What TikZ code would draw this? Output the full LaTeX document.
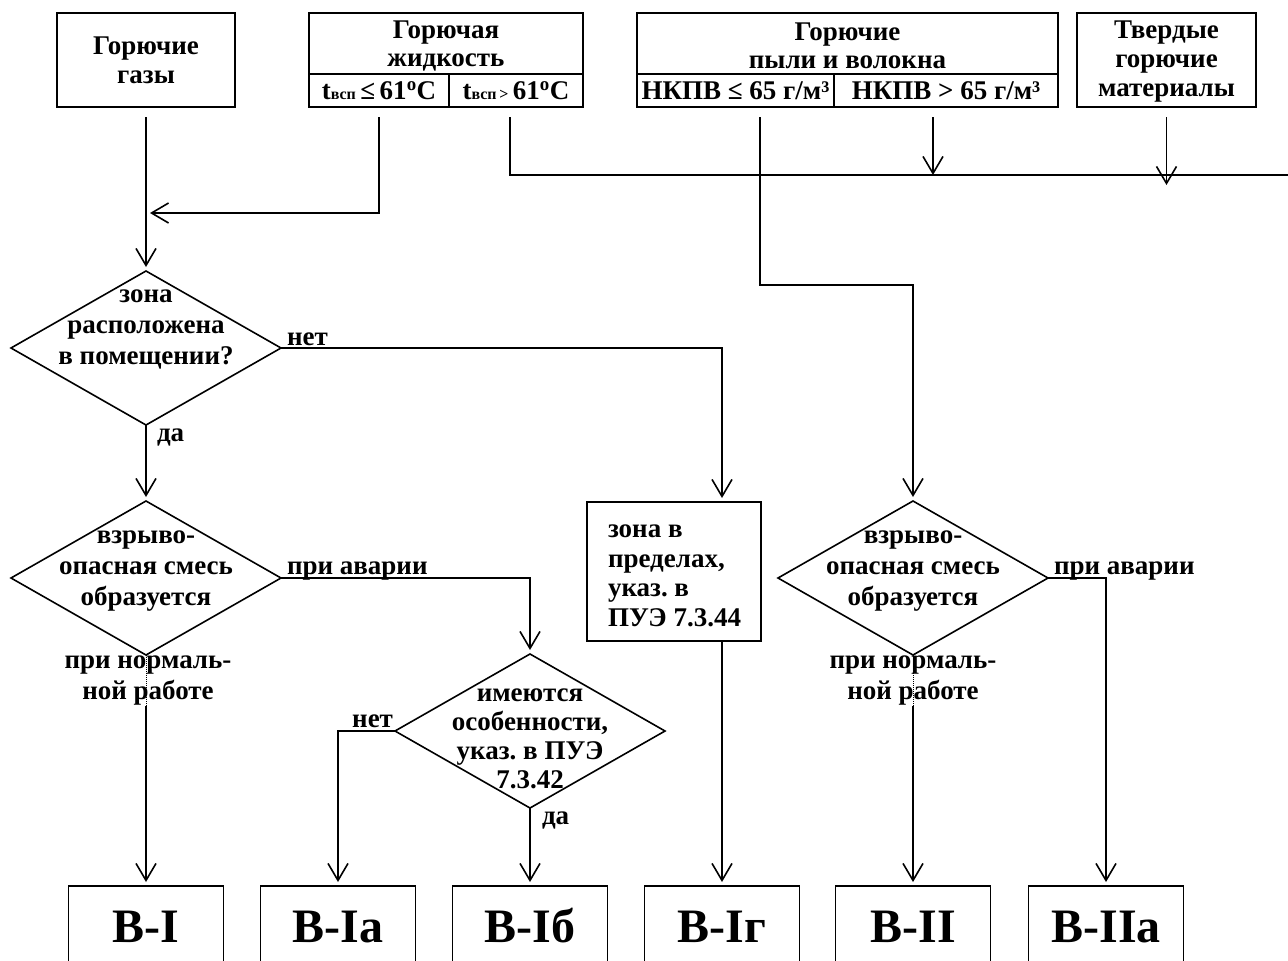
\documentclass[tikz,border=0pt]{standalone}
\usepackage{fontspec}
\setmainfont{Liberation Serif}
\usetikzlibrary{shapes.geometric,arrows.meta}
\frenchspacing

\begin{document}
\begin{tikzpicture}[x=1pt,y=-1pt,line width=1.6pt]
            \tikzstyle{every node}+=[inner sep=0pt,outer sep=0pt,font=\bfseries\fontsize{27}{29}\selectfont]
            \tikzstyle{box}=[draw,black,align=center]
            \tikzstyle{dia}=[draw,black,diamond,minimum width=270,minimum height=154]
            \tikzstyle{txt}=[align=center,font=\bfseries\fontsize{27}{31}\selectfont]
            \tikzstyle{big}=[draw,black,minimum width=155,minimum height=80,text height=32,text depth=0,font=\bfseries\fontsize{48}{48}\selectfont]
            \tikzstyle{arr}=[-{Straight Barb[length=17pt,width=20pt]},shorten >=4pt]
            \tikzstyle{dots}=[densely dotted,line width=1pt]
            \useasboundingbox (0,0) rectangle (1288,961);
            \clip (0,0) rectangle (1288,961);
            \node [box,minimum width=178,minimum height=94] (gas) at (146,60) {Горючие\\газы};
            \node [box,minimum width=274,minimum height=61] (liq) at (446,43.5) {};
            \node [txt,font=\bfseries\fontsize{27}{28}\selectfont] (liqt) at (446,46) {Горючая\\жидкость};
            \node [box,minimum width=140,minimum height=33] (liqlo) at (379,90.5) {t{\fontsize{16}{16}\selectfont всп}\,≤\,61\textsuperscript{o}C};
            \node [box,minimum width=134,minimum height=33] (liqhi) at (516,90.5) {t{\fontsize{16}{16}\selectfont всп\,>}\,61\textsuperscript{o}C};
            \node [box,minimum width=421,minimum height=61] (dust) at (847.5,43.5) {};
            \node [txt,font=\bfseries\fontsize{27}{28}\selectfont] (dustt) at (847.5,46) {Горючие\\пыли и волокна};
            \node [box,minimum width=197,minimum height=33] (dustlo) at (735.5,90.5) {НКПВ ≤ 65 г/м³};
            \node [box,minimum width=224,minimum height=33] (dusthi) at (946,90.5) {НКПВ > 65 г/м³};
            \node [box,minimum width=179,minimum height=94] (solid) at (1166.5,60) {};
            \node [txt,font=\bfseries\fontsize{27}{29}\selectfont] (solidt) at (1166.5,62) {Твердые\\горючие\\материалы};
            \node [dia] (zone) at (146,348) {};
            \node [txt] (zonet) at (146,329) {зона\\расположена\\в помещении?};
            \node [dia] (expl) at (146,578) {};
            \node [txt] (explt) at (146,571) {взрыво-\\опасная смесь\\образуется};
            \node [dia] (feat) at (530,731) {};
            \node [txt,font=\bfseries\fontsize{27}{29}\selectfont] (featt) at (530,739) {имеются\\особенности,\\указ. в ПУЭ\\7.3.42};
            \node [dia] (expl2) at (913,578) {};
            \node [txt] (expl2t) at (913,571) {взрыво-\\опасная смесь\\образуется};
            \node [box,minimum width=174,minimum height=139] (lim) at (674,571.5) {};
            \node [anchor=west,align=left,font=\bfseries\fontsize{27}{29.5}\selectfont] (limt) at (608,576) {зона в\\пределах,\\указ. в\\ПУЭ 7.3.44};
            \foreach \x/\n/\t in {146/vI/В-I, 338/vIa/В-Iа, 530/vIb/В-Iб, 722/vIg/В-Iг, 913/vII/В-II, 1106/vIIa/В-IIа}
                \node [big] (\n) at (\x,926) {\t};
            \coordinate (s2) at (510,117);
            \coordinate (s3) at (760,117);
            \coordinate (s4) at (933,117);
            \coordinate (j1) at (146,213);
            \coordinate (j2) at (1300,175);
            \coordinate (j3) at (760,285);
            \coordinate (d1) at (146,706);
            \coordinate (d2) at (913,706);
            \draw [black,arr] ([yshift=-10pt]gas.south) -- (zone.north);
            \draw [black,arr] ([yshift=-10pt]liqlo.south) |- (j1);
            \draw [black] (s2) |- (j2);
            \draw [black,arr,shorten >=0pt] (s4) -- (s4 |- j2);
            \draw [black,arr,shorten >=0pt] ([yshift=-10pt]solid.south) -- ([yshift=-10pt]solid.south |- j2);
            \draw [black,arr] (s3) -- (j3) -| (expl2.north);
            \draw [black,arr] (zone.east) -| (lim.north -| vIg.north);
            \draw (zone.east) ++(6,-2) node [anchor=south west] (no1) {нет};
            \draw [black,arr] (zone.south) -- (expl.north);
            \draw (zone.south) ++(11,4) node [anchor=north west] (yes1) {да};
            \draw [black,arr] (expl.east) -| (feat.north);
            \draw (expl.east) ++(6,-4) node [anchor=base west] (acc1) {при аварии};
            \draw [black,dots] (expl.south) -- (d1);
            \draw [black,arr] (d1) -- (vI.north);
            \node [txt] (norm1) at (148,681) {при нормаль-\\ной работе};
            \draw [black,arr] (feat.west) -| (vIa.north);
            \draw (feat.west) ++(-2,-4) node [anchor=base east] (no2) {нет};
            \draw [black,arr] (feat.south) -- (vIb.north);
            \draw (feat.south) ++(12,4) node [anchor=north west] (yes2) {да};
            \draw [black,arr] (lim.south -| vIg.north) -- (vIg.north);
            \draw [black,dots] (expl2.south) -- (d2);
            \draw [black,arr] (d2) -- (vII.north);
            \node [txt] (norm2) at (913,681) {при нормаль-\\ной работе};
            \draw [black,arr] (expl2.east) -| (vIIa.north);
            \draw (expl2.east) ++(6,-4) node [anchor=base west] (acc2) {при аварии};
            \end{tikzpicture}
\end{document}
